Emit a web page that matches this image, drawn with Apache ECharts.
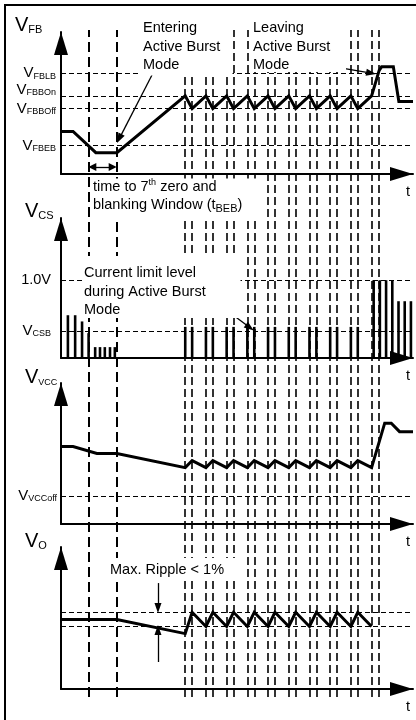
<!DOCTYPE html>
<html>
<head>
<meta charset="utf-8">
<script src="https://cdn.jsdelivr.net/npm/echarts@6/dist/echarts.min.js"></script>
<style>html,body{margin:0;padding:0;background:#fff;}#c{width:416px;height:720px;}</style>
</head>
<body>
<div id="c"></div>
<script>
// ---------------- data (time in arbitrary units 0..102) ----------------
const T_MAX = 102;
const blankingTimes = [8.1, 16.2];
const burstStarts = [36, 42, 48, 54, 60, 66, 72, 78, 84, 90];
const burstEnds   = [38, 44, 50, 56, 62, 68, 74, 80, 86, 92];

// V_FB panel (0..10 units)
const vfbLevels = [2.0, 4.6, 5.5, 7.1];
const vfbTickLabels = [['V', 'FBEB'], ['V', 'FBBOff'], ['V', 'FBBOn'], ['V', 'FBLB']];
const vfbWave = [[0,3.0],[3.5,3.0],[10.1,1.5],[16.2,1.5],[36,5.5],[38,4.6],[42,5.5],[44,4.6],[48,5.5],[50,4.6],
  [54,5.5],[56,4.6],[60,5.5],[62,4.6],[66,5.5],[68,4.6],[72,5.5],[74,4.6],[78,5.5],[80,4.6],[84,5.5],[86,4.6],
  [90,5.5],[92.2,7.3],[92.9,7.55],[96.3,7.55],[97.9,5.1],[102,5.1]];

// V_CS panel (volts 0..1.8)
const csLevels = [0.35, 1.0];
const csTickLabels = [['V', 'CSB'], ['1.0V', '']];
const csPulses = [[2.0,0.55],[4.1,0.55],[6.1,0.47],[8.0,0.32],[9.9,0.14],[11.3,0.14],[12.7,0.14],[14.2,0.14],[15.6,0.14],
  [36,0.4],[38,0.4],[42,0.4],[44,0.4],[48,0.4],[50,0.4],[54,0.4],[56,0.4],[60,0.4],[62,0.4],[66,0.4],[68,0.4],
  [72,0.4],[74,0.4],[78,0.4],[80,0.4],[84,0.4],[86,0.4],
  [90.6,1.0],[92.4,1.0],[94.2,1.0],[96.0,1.0],[97.8,0.73],[99.6,0.73],[101.4,0.73]];

// V_VCC panel (0..10 units)
const vccLevels = [2.0];
const vccTickLabels = [['V', 'VCCoff']];
const vccWave = [[0,5.5],[3.5,5.5],[10.4,5.0],[16.2,5.0],[36,4.0],[38,4.5],[42,4.0],[44,4.5],[48,4.0],[50,4.5],
  [54,4.0],[56,4.5],[60,4.0],[62,4.5],[66,4.0],[68,4.5],[72,4.0],[74,4.5],[78,4.0],[80,4.5],[84,4.0],[86,4.5],
  [90,4.0],[93.8,7.15],[95.7,7.15],[98.1,6.55],[102,6.55]];

// V_O panel (0..10 units)
const voLevels = [4.4, 5.4];
const voWave = [[0,4.9],[16.2,4.9],[36,3.9],[38,5.4],[42,4.4],[44,5.4],[48,4.4],[50,5.4],[54,4.4],[56,5.4],
  [60,4.4],[62,5.4],[66,4.4],[68,5.4],[72,4.4],[74,5.4],[78,4.4],[80,5.4],[84,4.4],[86,5.4],[90,4.4]];

// annotation arrows: [fromT, fromV, toT, toV]
const vfbArrows = [[26.37, 6.97, 16.89, 2.49], [81.43, 7.46, 89.86, 7.1]];
const vfbDoubleArrow = [9.07, 0.49, 14.98, 0.49];
const csArrows = [[49.84, 0.553, 54.71, 0.391]];
const voArrows = [[28.1, 7.46, 28.1, 5.70], [28.1, 1.90, 28.1, 4.15]];

// ---------------- style ----------------
const FONT = '"Liberation Sans", Arial, Helvetica, sans-serif';
// vertical nudge of each tick label in px (style only, + = down)
const vfbLabelNudge = [5, 1, -3, 2];
const csLabelNudge = [6, 1];
const vccLabelNudge = [1];

const chart = echarts.init(document.getElementById('c'), null, {renderer: 'canvas'});

function tickLabelAxis(levels, names, nudges, margin) {
  const rich = {};
  nudges.forEach((d, i) => {
    const pad = d >= 0 ? [2 * d, 0, 0, 0] : [0, 0, -2 * d, 0];
    rich['v' + i] = {fontSize: names[i][1] ? 15 : 14.5, lineHeight: 15, verticalAlign: 'bottom', padding: pad, fontFamily: FONT, color: '#000'};
    rich['s' + i] = {fontSize: 9, lineHeight: 9, verticalAlign: 'bottom', padding: pad, fontFamily: FONT, color: '#000'};
  });
  return {show: true, customValues: levels, margin: margin, fontSize: 15, lineHeight: 15, fontFamily: FONT, color: '#000', rich: rich,
    formatter: function (v) {
      let b = 0;
      for (let i = 1; i < levels.length; i++) if (Math.abs(levels[i] - v) < Math.abs(levels[b] - v)) b = i;
      return '{v' + b + '|' + names[b][0] + '}' + (names[b][1] ? '{s' + b + '|' + names[b][1] + '}' : '');
    }};
}
const axisArrow = {show: true, symbol: ['none', 'triangle'], symbolSize: [14, 23], symbolOffset: [0, -11.5],
  lineStyle: {color: '#000', width: 2}};
function xAx(i) {
  return {type: 'value', gridIndex: i, min: 0, max: T_MAX, axisLine: axisArrow, axisTick: {show: false},
    axisLabel: {show: false}, splitLine: {show: false}, name: 't', nameLocation: 'end', nameGap: -5,
    nameTextStyle: {fontSize: 14.5, fontFamily: FONT, color: '#000', align: 'center', verticalAlign: 'top', padding: [10, 0, 0, 0]}};
}
function yAx(i, max, lbl) {
  return {type: 'value', gridIndex: i, min: 0, max: max, axisLine: axisArrow, axisTick: {show: false},
    splitLine: {show: false}, axisLabel: lbl || {show: false}};
}
function levelLines(levels) {
  return {silent: true, symbol: 'none', animation: false, label: {show: false},
    lineStyle: {color: '#000', type: [5, 3], width: 1.2},
    data: levels.map(v => ({yAxis: v}))};
}
function arrowLines(list, dbl) {
  const data = list.map(a => [{coord: [a[0], a[1]], symbol: 'none'},
                              {coord: [a[2], a[3]], symbol: 'triangle', symbolSize: [7, 10]}]);
  if (dbl) data.push([{coord: [dbl[0], dbl[1]], symbol: 'triangle', symbolSize: [8, 8]},
                      {coord: [dbl[2], dbl[3]], symbol: 'triangle', symbolSize: [8, 8]}]);
  return {silent: true, animation: false, label: {show: false},
    lineStyle: {color: '#000', type: 'solid', width: 1.3}, data: data};
}
const wave = (i, d) => ({type: 'line', xAxisIndex: i, yAxisIndex: i, data: d, symbol: 'none', showSymbol: false,
  lineStyle: {color: '#000', width: 3, join: 'miter'}, silent: true});

const vMain = {color: '#000', width: 2, type: [10, 5]};
const vPair = {color: '#000', width: 1.6, type: [8, 4]};
const vData = [].concat(
  blankingTimes.map(t => ({xAxis: t, lineStyle: vMain})),
  burstStarts.map(t => ({xAxis: t, lineStyle: vPair})),
  burstEnds.map(t => ({xAxis: t, lineStyle: vPair})));

const gBase = {left: 61, right: 3, containLabel: false, outerBoundsMode: 'none'};
const txt = {fontSize: 14.5, fontFamily: FONT, fill: '#000', lineHeight: 18.5, align: 'left', verticalAlign: 'top'};
const titleRich = {v: {fontSize: 20, lineHeight: 20, fontFamily: FONT},
  s: {fontSize: 11, lineHeight: 11, verticalAlign: 'bottom', fontFamily: FONT},
  t: {fontSize: 9, lineHeight: 9, verticalAlign: 'bottom', fontFamily: FONT}};
function mask(x, y, w, h) { return {type: 'rect', z: 100, silent: true, shape: {x: x, y: y, width: w, height: h}, style: {fill: '#fff'}}; }
function label(x, y, text, extra) {
  return {type: 'text', z: 101, silent: true, x: x, y: y, style: Object.assign({text: text}, txt, extra || {})};
}
function title(x, y, text) {
  return {type: 'text', z: 101, silent: true, x: x, y: y,
    style: {text: text, rich: titleRich, fill: '#000', fontFamily: FONT, fontSize: 20, align: 'left', verticalAlign: 'top'}};
}

chart.setOption({
  animation: false,
  backgroundColor: '#fff',
  grid: [
    Object.assign({top: 32, height: 142}, gBase),
    Object.assign({top: 218, height: 140}, gBase),
    Object.assign({top: 383, height: 141}, gBase),
    Object.assign({top: 547, height: 142}, gBase),
    Object.assign({top: 30, bottom: 23}, gBase)
  ],
  xAxis: [xAx(0), xAx(1), xAx(2), xAx(3),
    {type: 'value', gridIndex: 4, min: 0, max: T_MAX, show: false}],
  yAxis: [
    yAx(0, 10, tickLabelAxis(vfbLevels, vfbTickLabels, vfbLabelNudge, 5)),
    yAx(1, 1.8, tickLabelAxis(csLevels, csTickLabels, csLabelNudge, 10)),
    yAx(2, 10, tickLabelAxis(vccLevels, vccTickLabels, vccLabelNudge, 4)),
    yAx(3, 10, null),
    {type: 'value', gridIndex: 4, min: 0, max: 1, show: false}
  ],
  series: [
    {type: 'line', xAxisIndex: 4, yAxisIndex: 4, data: [], silent: true,
      markLine: {silent: true, symbol: 'none', animation: false, label: {show: false}, data: vData}},
    Object.assign(wave(0, vfbWave), {markLine: levelLines(vfbLevels)}),
    {type: 'bar', xAxisIndex: 1, yAxisIndex: 1, data: csPulses, barWidth: 2.6, itemStyle: {color: '#000'}, silent: true,
      markLine: levelLines(csLevels)},
    Object.assign(wave(2, vccWave), {markLine: levelLines(vccLevels)}),
    Object.assign(wave(3, voWave), {markLine: levelLines(voLevels)}),
    {type: 'line', xAxisIndex: 0, yAxisIndex: 0, data: [], z: 150, markLine: arrowLines(vfbArrows, vfbDoubleArrow)},
    {type: 'line', xAxisIndex: 1, yAxisIndex: 1, data: [], z: 150, markLine: arrowLines(csArrows)},
    {type: 'line', xAxisIndex: 3, yAxisIndex: 3, data: [], z: 150, markLine: arrowLines(voArrows)}
  ],
  graphic: [
    {type: 'rect', z: 100, silent: true, shape: {x: 5, y: 5, width: 440, height: 760}, style: {fill: 'none', stroke: '#000', lineWidth: 2}},
    mask(139, 14, 93.5, 61.5),
    mask(250, 14, 96, 58),
    mask(92, 178.5, 174.5, 41),
    mask(82, 256, 158.5, 62),
    mask(107, 558, 129, 22),
    label(143, 18.9, 'Entering\nActive Burst\nMode'),
    label(253, 18.9, 'Leaving\nActive Burst\nMode'),
    label(93, 178, 'time to 7{sup|th} zero and\nblanking Window (t{sub|BEB})',
      {lineHeight: 18, rich: {sup: {fontSize: 9, lineHeight: 9, verticalAlign: 'top', fontFamily: FONT},
                              sub: {fontSize: 11, lineHeight: 11, verticalAlign: 'bottom', fontFamily: FONT}}}),
    label(84, 263.9, 'Current limit level\nduring Active Burst\nMode'),
    label(110, 561, 'Max. Ripple < 1%', {lineHeight: 18}),
    title(15, 15, '{v|V}{s|FB}'),
    title(25, 201, '{v|V}{s|CS}'),
    title(25, 367, '{v|V}{t|VCC}'),
    title(25, 531, '{v|V}{s|O}')
  ]
});
</script>
</body>
</html>
